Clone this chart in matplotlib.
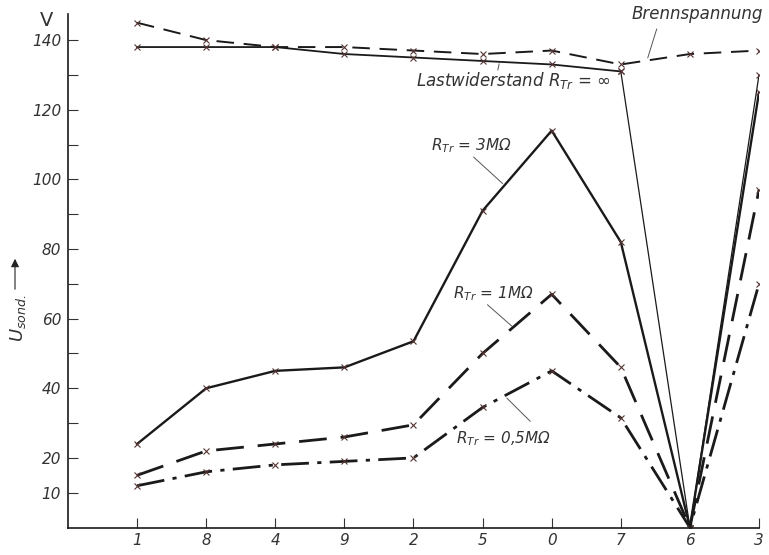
import matplotlib
matplotlib.use("Agg")
import matplotlib.pyplot as plt
from matplotlib.patches import FancyArrowPatch

# measuring points (order as on the x axis)
punkte = ['1', '8', '4', '9', '2', '5', '0', '7', '6', '3']

brennspannung = [145, 140, 138, 138, 137, 136, 137, 133, 136, 137]
r_unendlich = [138, 138, 138, 136, 135, 134, 133, 131, 0, 130]
r_3M = [24, 40, 45, 46, 53.5, 91, 114, 82, 0, 125]
r_1M = [15, 22, 24, 26, 29.5, 50, 67, 46, 0, 97]
r_05M = [12, 16, 18, 19, 20, 34.5, 45, 31.5, 0, 70]

yticks = [10, 20, 30, 40, 50, 60, 70, 80, 90, 100, 110, 120, 130, 140]
ylabels = ['10', '20', '', '40', '', '60', '', '80', '', '100', '', '120', '', '140']

plt.rcParams['font.family'] = ['DejaVu Sans']
plt.rcParams['font.style'] = 'italic'
plt.rcParams['mathtext.fontset'] = 'dejavusans'

ink = '#1a1a1a'
txt = '#333333'
fig = plt.figure(figsize=(7.69, 5.55), dpi=100)
ax = fig.add_axes([0.0884, 0.0495, 0.8986, 0.9253])

x = list(range(len(punkte)))
mk = dict(marker='x', ms=4.5, mew=0.8, mec='#553333')

ax.plot(x, brennspannung, color=ink, lw=1.4, dashes=(9, 5), **mk)
ax.plot(x[:8], r_unendlich[:8], color=ink, lw=1.3, **mk)
ax.plot(x[7:], r_unendlich[7:], color=ink, lw=0.9, **mk)
ax.plot(x, r_3M, color=ink, lw=1.7, **mk)
ax.plot(x, r_1M, color=ink, lw=2.0, dashes=(10, 5), **mk)
ax.plot(x, r_05M, color=ink, lw=2.0, dashes=(10, 3, 1.5, 3), **mk)

ax.set_xlim(-1, 9)
ax.set_ylim(0, 147.5)
ax.set_xticks(x)
ax.set_xticklabels(punkte)
ax.set_yticks(yticks)
ax.set_yticklabels(ylabels)
ax.tick_params(direction='in', length=7, width=0.8, colors='#333333',
               labelsize=11, labelcolor=txt)
ax.tick_params(axis='x', pad=4)
ax.tick_params(axis='y', pad=5)
for s in ['top', 'right']:
    ax.spines[s].set_visible(False)
for s in ['left', 'bottom']:
    ax.spines[s].set_linewidth(1.2)
    ax.spines[s].set_color(ink)

# curve labels: (text, text position, leader start, leader end, size)
labels = [
    ('Brennspannung', (8.1, 147.6), (7.52, 143.2), (7.39, 134.9), 12),
    (r'Lastwiderstand $R_{Tr}$ = ∞', (5.45, 128.3), (5.24, 133.2), (5.22, 131.4), 12),
    (r'$R_{Tr}$ = 3MΩ', (4.84, 109.6), (4.87, 106.4), (5.29, 98.8), 11),
    (r'$R_{Tr}$ = 1MΩ', (5.16, 67.2), (5.07, 64.0), (5.42, 57.9), 11),
    (r'$R_{Tr}$ = 0,5MΩ', (5.3, 25.5), (5.69, 30.5), (5.35, 37.2), 11),
]
lc = '#555555'
for t, pos, a, b, fs in labels:
    ax.text(pos[0], pos[1], t, fontsize=fs, ha='center', va='center', color=txt)
    ax.annotate('', xy=b, xytext=a,
                arrowprops=dict(arrowstyle='-', color=lc, lw=0.7,
                                shrinkA=0, shrinkB=0))

fig.text(47 / 769, 1 - 20 / 555, 'V', fontsize=14, ha='center', va='center',
         color=txt, style='normal')
fig.text(18 / 769, 1 - 318 / 555, r'$U_{sond.}$', fontsize=13, rotation=90,
         ha='center', va='center', color=txt)
fig.patches.append(FancyArrowPatch(
    (15 / 769, 1 - 292 / 555), (15 / 769, 1 - 256 / 555),
    transform=fig.transFigure, arrowstyle='-|>', mutation_scale=12,
    color='#222222', lw=0.8))

fig.savefig('out.png', dpi=100)
